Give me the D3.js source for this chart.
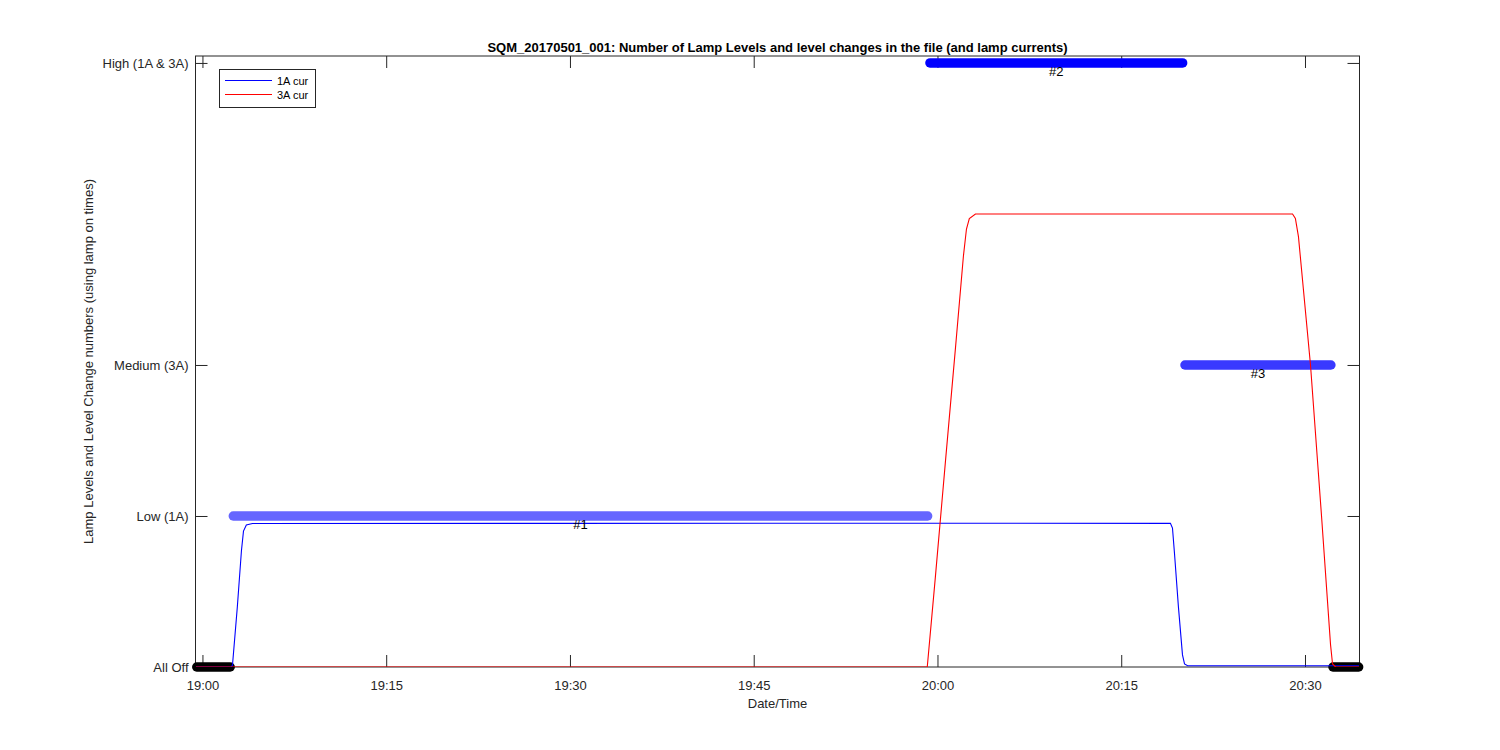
<!DOCTYPE html>
<html>
<head>
<meta charset="utf-8">
<script src="https://cdn.jsdelivr.net/npm/d3@7"></script>
<style>
  body { margin: 0; background: #fff; }
  svg { font-family: "Liberation Sans", Arial, sans-serif; }
  .axis path, .axis line { stroke: #262626; }
  .axis text { fill: #262626; font-size: 13px; }
</style>
</head>
<body>
<svg id="chart" width="1500" height="750"></svg>
<script>
// Lamp level plot: level segments as thick marker runs, currents as thin lines.

const xDomain = ['18:59:26', '20:34:27'];
const xTicks = ['19:00', '19:15', '19:30', '19:45', '20:00', '20:15', '20:30'];

const levelValues = [0, 1, 2, 4];
const levelNames  = ['All Off', 'Low (1A)', 'Medium (3A)', 'High (1A & 3A)'];

// level segments (start, end, level value, label)
const segStart = ['18:59:32', '19:02:31', '19:59:23', '20:20:12', '20:32:17'];
const segEnd   = ['19:02:16', '19:59:12', '20:20:01', '20:32:07', '20:34:23'];
const segLevel = [0, 1, 4, 2, 0];
const segLabel = ['', '#1', '#2', '#3', ''];

// 1A lamp current
const cur1aTime = ['18:59:28', '19:02:20', '19:02:27', '19:02:51', '19:03:11', '19:03:21', '19:03:35', '19:04:05',
                   '19:30:00', '20:00:00', '20:19:01', '20:19:11', '20:19:21', '20:19:40', '20:20:00', '20:20:10',
                   '20:20:25', '20:34:25'];
const cur1aVal  = [0, 0, 0.01, 0.4, 0.77, 0.9, 0.94, 0.95,
                   0.951, 0.952, 0.951, 0.92, 0.75, 0.4, 0.08, 0.02,
                   0.008, 0.008];

// 3A lamp current
const cur3aTime = ['18:59:28', '19:59:10', '19:59:50', '20:00:39', '20:01:28', '20:02:07', '20:02:22', '20:02:36',
                   '20:03:06', '20:15:00', '20:28:59', '20:29:13', '20:29:28', '20:30:27', '20:31:21', '20:32:05',
                   '20:32:15', '20:32:30', '20:34:25'];
const cur3aVal  = [0, 0, 0.6, 1.36, 2.11, 2.72, 2.9, 2.97,
                   3.0, 3.0, 3.0, 2.97, 2.85, 2.0, 1.0, 0.15,
                   0.02, 0, 0];

const parseT = d3.timeParse('%H:%M:%S');
const parseHM = d3.timeParse('%H:%M');

const svg = d3.select('#chart');
const pl = 195.5, pr = 1359.5, pt = 56, pb = 667;

const x = d3.scaleTime().domain(xDomain.map(parseT)).range([pl, pr]);
const y = d3.scaleLinear().domain([0, 4.046]).range([pb, pt]);

const segColor = d3.scaleOrdinal()
  .domain([0, 1, 2, 4])
  .range(['#000000', '#6666ff', '#3939ff', '#0000ff']);

svg.append('defs').append('clipPath').attr('id', 'plot')
  .append('rect').attr('x', pl).attr('y', pt).attr('width', pr - pl).attr('height', pb - pt);

// axes
const tickLen = 12;
const xTickDates = xTicks.map(parseHM);

svg.append('g').attr('class', 'axis')
  .attr('transform', `translate(0,${pb})`)
  .call(d3.axisBottom(x).tickValues(xTickDates).tickFormat(d3.timeFormat('%H:%M'))
    .tickSizeInner(-tickLen).tickSizeOuter(0).tickPadding(14));

svg.append('g').attr('class', 'axis')
  .attr('transform', `translate(0,${pt})`)
  .call(d3.axisTop(x).tickValues(xTickDates).tickFormat('').tickSizeInner(-tickLen).tickSizeOuter(0));

svg.append('g').attr('class', 'axis')
  .attr('transform', `translate(${pl},0)`)
  .call(d3.axisLeft(y).tickValues(levelValues).tickFormat((d, i) => levelNames[i])
    .tickSizeInner(-tickLen).tickSizeOuter(0).tickPadding(7));

svg.append('g').attr('class', 'axis')
  .attr('transform', `translate(${pr},0)`)
  .call(d3.axisRight(y).tickValues(levelValues).tickFormat('').tickSizeInner(-tickLen).tickSizeOuter(0));

svg.selectAll('.axis path.domain').remove();
svg.append('rect')
  .attr('x', pl).attr('y', pt).attr('width', pr - pl).attr('height', pb - pt)
  .attr('fill', 'none').attr('stroke', '#262626').attr('stroke-width', 1);

// level segments (marker runs)
const segs = segStart.map((s, i) => ({ s: parseT(s), e: parseT(segEnd[i]), v: segLevel[i], label: segLabel[i] }));

svg.append('g').selectAll('line')
  .data(segs)
  .join('line')
  .attr('x1', d => x(d.s)).attr('x2', d => x(d.e))
  .attr('y1', d => y(d.v)).attr('y2', d => y(d.v))
  .attr('stroke', d => segColor(d.v))
  .attr('stroke-width', 9.4)
  .attr('stroke-linecap', 'round');

// current curves
const line = d3.line().x(d => x(d[0])).y(d => y(d[1]));
const cur1a = cur1aTime.map((t, i) => [parseT(t), cur1aVal[i]]);
const cur3a = cur3aTime.map((t, i) => [parseT(t), cur3aVal[i]]);

const curves = svg.append('g').attr('clip-path', 'url(#plot)');
curves.append('path').datum(cur1a).attr('d', line)
  .attr('fill', 'none').attr('stroke', '#0000ff').attr('stroke-width', 1.1);
curves.append('path').datum(cur3a).attr('d', line)
  .attr('fill', 'none').attr('stroke', '#ff0000').attr('stroke-width', 1.1);

// segment labels
svg.append('g').selectAll('text')
  .data(segs.filter(d => d.label))
  .join('text')
  .attr('x', d => x(new Date((+d.s + +d.e) / 2)))
  .attr('y', d => y(d.v) + 13)
  .attr('text-anchor', 'middle')
  .attr('font-size', 13)
  .attr('fill', '#000')
  .text(d => d.label);

// title and axis labels
svg.append('text')
  .attr('x', (pl + pr) / 2).attr('y', 52)
  .attr('text-anchor', 'middle').attr('font-size', 13).attr('font-weight', 'bold').attr('fill', '#000')
  .text('SQM_20170501_001: Number of Lamp Levels and level changes in the file (and lamp currents)');

svg.append('text')
  .attr('x', (pl + pr) / 2).attr('y', 708)
  .attr('text-anchor', 'middle').attr('font-size', 13).attr('fill', '#262626')
  .text('Date/Time');

svg.append('text')
  .attr('transform', `translate(93,${(pt + pb) / 2}) rotate(-90)`)
  .attr('text-anchor', 'middle').attr('font-size', 13).attr('fill', '#262626')
  .text('Lamp Levels and Level Change numbers (using lamp on times)');

// legend
const legend = svg.append('g');
legend.append('rect')
  .attr('x', 219.5).attr('y', 69.5).attr('width', 96).attr('height', 38)
  .attr('fill', '#fff').attr('stroke', '#262626');
const legItems = [['1A cur', '#0000ff'], ['3A cur', '#ff0000']];
legItems.forEach(([name, col], i) => {
  const ly = 80.5 + i * 14;
  legend.append('line').attr('x1', 225).attr('x2', 272).attr('y1', ly).attr('y2', ly)
    .attr('stroke', col).attr('stroke-width', 1.1);
  legend.append('text').attr('x', 277).attr('y', ly + 4)
    .attr('font-size', 11).attr('fill', '#000').text(name);
});
</script>
</body>
</html>
